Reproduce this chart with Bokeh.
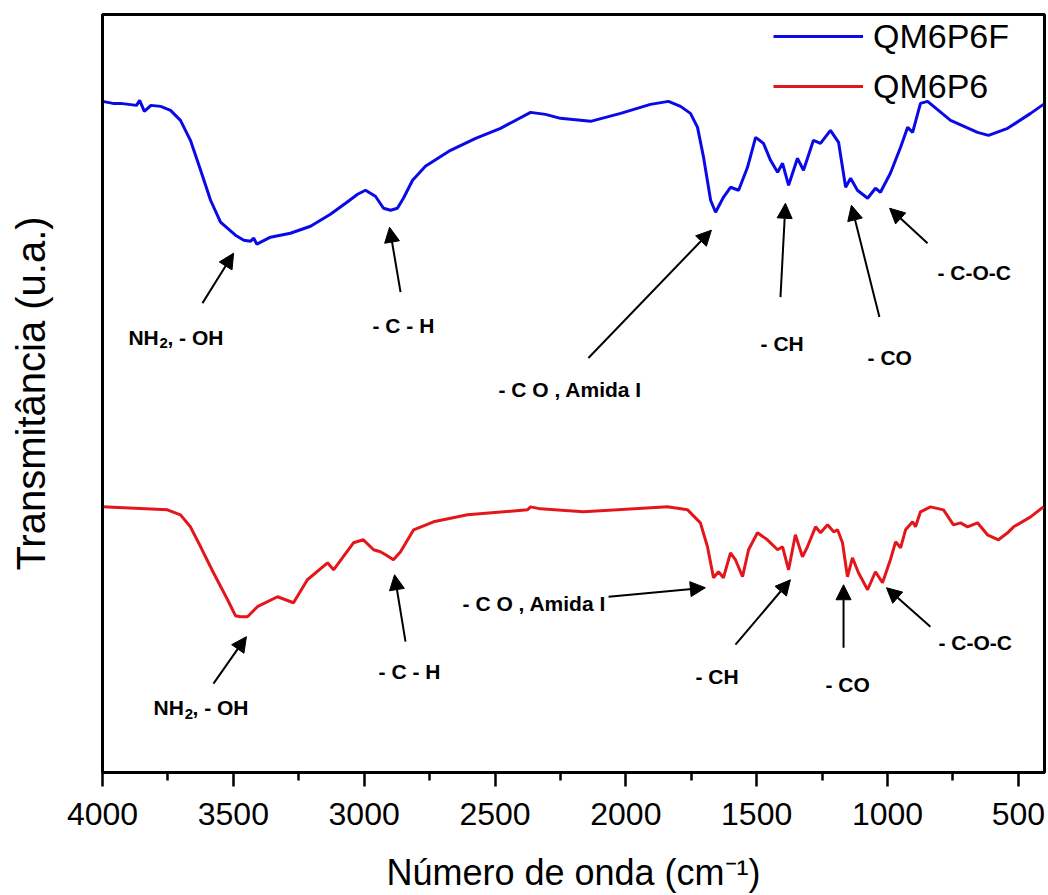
from bokeh.plotting import figure
from bokeh.models import (Range1d, FixedTicker, Legend, LegendItem, Label, Arrow, NormalHead)
from bokeh.embed import file_html
from bokeh.resources import INLINE

# ---------------- data (transmittance in arbitrary units) -------------
wn_qm6p6f = [4000, 3960, 3931, 3870, 3858, 3840, 3815, 3778, 3740, 3702, 3664, 3625, 3587, 3549,
             3492, 3460, 3434, 3422, 3410, 3358, 3282, 3205, 3129, 3071, 3025, 2995, 2957, 2926,
             2899, 2873, 2850, 2815, 2766, 2670, 2574, 2479, 2364, 2307, 2250, 2135, 2020, 1906,
             1837, 1791, 1753, 1726, 1703, 1676, 1657, 1627, 1600, 1569, 1535, 1504, 1474, 1447,
             1420, 1401, 1378, 1344, 1321, 1283, 1256, 1218, 1187, 1160, 1141, 1115, 1076, 1046,
             1027, 989, 950, 923, 904, 874, 847, 759, 656, 614, 541, 453, 404]
t_qm6p6f = [672, 670, 670, 668, 673, 662, 668, 667, 663, 653, 633, 603, 573, 551,
            538, 533, 532, 535, 529, 536, 540, 547, 559, 570, 579, 583, 577, 565,
            563, 565, 575, 593, 607, 623, 635, 645, 661, 659, 655, 652, 660, 669,
            672, 667, 660, 646, 616, 573, 561, 576, 586, 583, 606, 636, 630, 613,
            601, 610, 588, 615, 603, 633, 630, 643, 631, 586, 595, 583, 575, 585,
            581, 600, 626, 646, 641, 670, 672, 653, 641, 638, 645, 660, 669]

wn_qm6p6 = [4000, 3752, 3702, 3664, 3625, 3576, 3522, 3492, 3473, 3446, 3408, 3331, 3270, 3217,
            3140, 3117, 3041, 3003, 2964, 2938, 2918, 2888, 2861, 2811, 2735, 2605, 2376, 2364,
            2326, 2162, 1841, 1764, 1715, 1688, 1665, 1646, 1627, 1600, 1581, 1554, 1531, 1497,
            1459, 1420, 1401, 1378, 1352, 1325, 1306, 1275, 1256, 1229, 1206, 1191, 1172, 1153,
            1134, 1111, 1076, 1046, 1019, 989, 969, 950, 931, 904, 893, 874, 836, 786, 748, 721,
            694, 656, 618, 576, 541, 518, 453, 404]
t_qm6p6 = [266, 263, 258, 246, 226, 200, 173, 157, 156, 156, 166, 176, 170, 193,
           210, 203, 230, 233, 223, 221, 218, 213, 221, 243, 251, 258, 263, 266,
           264, 261, 266, 263, 250, 226, 195, 201, 195, 220, 213, 196, 223, 240,
           233, 223, 226, 203, 238, 216, 226, 246, 240, 248, 241, 243, 230, 196,
           215, 200, 183, 201, 190, 213, 231, 225, 243, 251, 246, 261, 266, 263, 248, 250,
           246, 250, 238, 233, 240, 246, 256, 266]

series_names = ["QM6P6F", "QM6P6"]
series_colors = ["#0a0ae6", "#e3161b"]

x_major_ticks = [4000, 3500, 3000, 2500, 2000, 1500, 1000, 500]
x_minor_ticks = [3750, 3250, 2750, 2250, 1750, 1250, 750]

# annotations: (text, x, y) and arrows (x_start, y_start, x_end, y_end)
labels_simple = [
    ("- C - H", 2968, 448), ("- C O , Amida I", 2487, 384), ("- CH", 1485, 430),
    ("- CO", 1076, 416), ("- C-O-C", 809, 501),
    ("- C - H", 2945, 101), ("- C O , Amida I", 2624, 169), ("- CH", 1734, 96),
    ("- CO", 1237, 88), ("- C-O-C", 805, 130),
]
nh_labels = [(3901, 436, 3782, 430, 3752), (3805, 65, 3686, 59, 3656)]
arrows = [
    (3618, 470, 3499, 520), (2861, 481, 2903, 546), (2143, 415, 1673, 543),
    (1409, 476, 1390, 570), (1031, 456, 1138, 568), (847, 530, 992, 565),
    (3576, 89, 3450, 136), (2842, 131, 2884, 198), (2066, 176, 1696, 185),
    (1581, 128, 1371, 193), (1168, 125, 1168, 188), (836, 146, 1004, 185),
]

FONT = "Liberation Sans"

p = figure(width=1048, height=895, output_backend="svg", toolbar_location=None,
           x_range=Range1d(4000, 400), y_range=Range1d(0, 759),
           min_border_left=102, min_border_right=4, min_border_top=14, min_border_bottom=122)
p.grid.visible = False
p.outline_line_color = "black"
p.outline_line_width = 3
p.background_fill_color = "white"
p.border_fill_color = "white"

# x axis
xa = p.xaxis[0]
xa.ticker = FixedTicker(ticks=x_major_ticks, minor_ticks=x_minor_ticks)
xa.axis_line_width = 3
xa.major_tick_line_width = 2.5
xa.minor_tick_line_width = 2.5
xa.major_tick_out = 14
xa.major_tick_in = 0
xa.minor_tick_out = 8
xa.minor_tick_in = 0
xa.major_label_text_font = FONT
xa.major_label_text_font_size = "32px"
xa.major_label_text_color = "black"
xa.major_label_standoff = 16
xa.axis_label = "Número de onda (cm⁻¹)"
xa.axis_label_text_font = FONT
xa.axis_label_text_font_size = "36px"
xa.axis_label_text_font_style = "normal"
xa.axis_label_text_color = "black"
xa.axis_label_standoff = 24

# y axis
ya = p.yaxis[0]
ya.ticker = FixedTicker(ticks=[])
ya.axis_line_width = 3
ya.major_tick_out = 0
ya.major_tick_in = 0
ya.minor_tick_out = 0
ya.minor_tick_in = 0
ya.major_label_standoff = 0
ya.axis_label = "Transmitância (u.a.)"
ya.axis_label_text_font = FONT
ya.axis_label_text_font_size = "40px"
ya.axis_label_text_font_style = "normal"
ya.axis_label_text_color = "black"
ya.axis_label_standoff = 50

r1 = p.line(wn_qm6p6f, t_qm6p6f, line_color=series_colors[0], line_width=3)
r2 = p.line(wn_qm6p6, t_qm6p6, line_color=series_colors[1], line_width=3)

legend = Legend(items=[LegendItem(label=series_names[0], renderers=[r1]),
                       LegendItem(label=series_names[1], renderers=[r2])],
                location=(671, 666), orientation="vertical",
                glyph_width=90, glyph_height=40, label_height=40, spacing=10,
                label_standoff=10, padding=0, margin=0,
                label_text_font=FONT, label_text_font_size="34px",
                label_text_color="black",
                border_line_color=None, background_fill_alpha=0)
p.add_layout(legend)

def add_label(text, x, y, size="21px"):
    p.add_layout(Label(x=x, y=y, text=text, text_font=FONT, text_font_size=size,
                       text_font_style="bold", text_color="black",
                       text_align="left", text_baseline="alphabetic"))

for text, x, y in labels_simple:
    add_label(text, x, y)
for xnh, ynh, x2, y2, xr in nh_labels:
    add_label("NH", xnh, ynh)
    add_label("2", x2, y2, size="15px")
    add_label(", - OH", xr, ynh)

for xs, ys, xe, ye in arrows:
    p.add_layout(Arrow(x_start=xs, y_start=ys, x_end=xe, y_end=ye, line_width=2,
                       line_color="black",
                       end=NormalHead(size=15, fill_color="black", line_color="black", line_width=1)))

open("out.html", "w").write(file_html(p, INLINE))
